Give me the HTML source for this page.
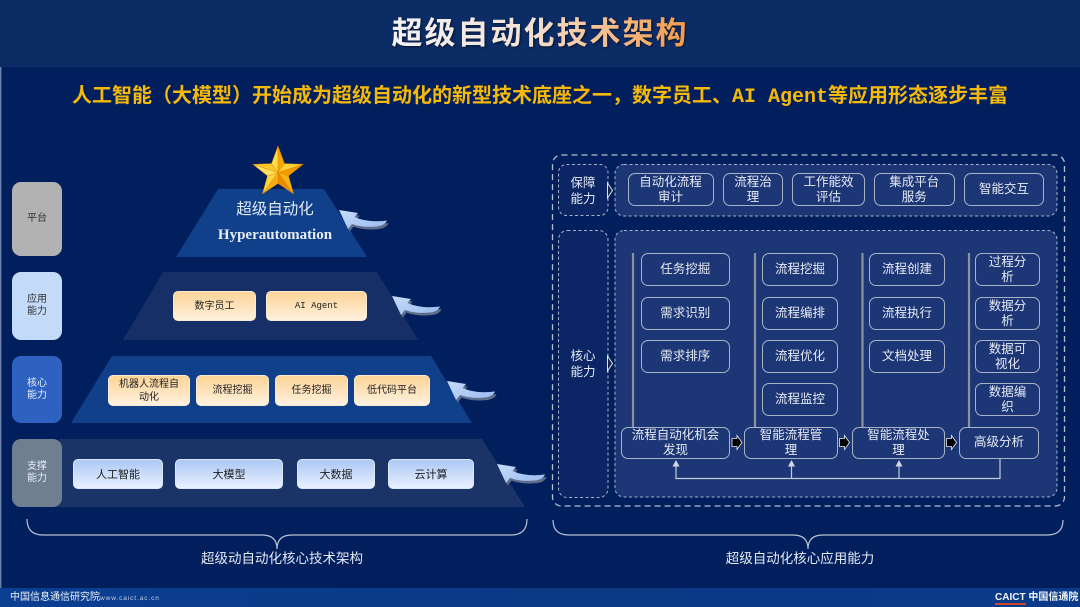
<!DOCTYPE html>
<html><head><meta charset="utf-8">
<style>
*{margin:0;padding:0;box-sizing:border-box}
body{width:1080px;height:607px;overflow:hidden;background:#011e5d;font-family:"Liberation Sans","Noto Sans CJK SC",sans-serif}
#w{position:relative;width:1080px;height:607px;background:#011e5d;overflow:hidden}
.abs{position:absolute}
.hdr{left:0;top:0;width:1080px;height:67px;background:#0c2c66}
.title{left:0;top:0;width:1080px;height:67px;line-height:67px;text-align:center;font-size:31px;font-weight:700;letter-spacing:2px;}
.title span{background:linear-gradient(90deg,#f2f2f6 0%,#f3e2d6 45%,#f59a45 100%);-webkit-background-clip:text;background-clip:text;color:transparent;filter:drop-shadow(1px 1px 1px rgba(0,0,0,.55))}
.sub{left:0;top:82px;width:1080px;height:28px;line-height:28px;text-align:center;font-size:20px;font-weight:700;color:#f6b90a;white-space:nowrap}
.sub .m{font-family:"Liberation Mono",monospace;font-weight:700}
.lb{position:absolute;left:12px;width:50px;border-radius:9px;display:flex;align-items:center;justify-content:center;text-align:center;font-size:10px;line-height:12px}
.ob{position:absolute;display:flex;align-items:center;justify-content:center;text-align:center;border-radius:5px;background:linear-gradient(180deg,#fcd396 0%,#fff1de 100%);border:1px solid #f8ead4;color:#222;font-size:10px;line-height:13px}
.bb{position:absolute;display:flex;align-items:center;justify-content:center;text-align:center;border-radius:5px;background:linear-gradient(180deg,#adc8f5 0%,#e8f0ff 100%);border:1px solid #dde8fb;color:#222;font-size:11px}
.rb{position:absolute;display:flex;align-items:center;justify-content:center;text-align:center;border:1.2px solid #a9b3c6;border-radius:7px;color:#e6eaf3;font-size:12.5px;line-height:15px}
.rl{position:absolute;display:flex;align-items:center;justify-content:center;text-align:center;color:#e2e7f1;font-size:12.5px;line-height:16px}
.bt{position:absolute;top:550px;height:18px;line-height:18px;text-align:center;color:#e4e9f2;font-size:13.5px;white-space:nowrap}
.ft{left:0;top:588px;width:1080px;height:19px;background:linear-gradient(90deg,#0b3f92 0%,#0a3986 50%,#0b3b88 100%)}
</style></head>
<body><div id="w">
<div class="abs hdr"></div>
<div class="abs title"><span>超级自动化技术架构</span></div>
<div class="abs sub">人工智能（大模型）开始成为超级自动化的新型技术底座之一，数字员工、<span class="m">AI Agent</span>等应用形态逐步丰富</div>

<svg class="abs" style="left:0;top:0" width="1080" height="607" viewBox="0 0 1080 607">
<defs>
<linearGradient id="ag" x1="0" y1="0" x2="1" y2="1"><stop offset="0" stop-color="#c9dcfa"/><stop offset="1" stop-color="#98b9ee"/></linearGradient>
</defs>
<line x1="0.7" y1="67" x2="0.7" y2="588" stroke="#6d80aa" stroke-width="1.4"/>
<!-- pyramid tiers -->
<polygon points="218,189 324,189 367,257 176,257" fill="#10408a"/>
<polygon points="163,272 377,272 418,340 123,340" fill="#162f67"/>
<polygon points="112,356 431,356 472,423 71,423" fill="#10408a"/>
<polygon points="60,439 482,439 525,507 17,507" fill="#1b3468"/>
<!-- star -->
<g stroke="#e08a00" stroke-width="0.4">
<polygon points="278,172.5 271.5,163.6 278,146" fill="#ffdc4a"/>
<polygon points="278,172.5 278,146 284.5,163.6" fill="#f7a300"/>
<polygon points="278,172.5 284.5,163.6 303.2,164.3" fill="#ffd23a"/>
<polygon points="278,172.5 303.2,164.3 288.5,175.9" fill="#f39a00"/>
<polygon points="278,172.5 288.5,175.9 293.6,193.9" fill="#f8b21a"/>
<polygon points="278,172.5 293.6,193.9 278,183.5" fill="#e88e00"/>
<polygon points="278,172.5 278,183.5 262.4,193.9" fill="#f7ae10"/>
<polygon points="278,172.5 262.4,193.9 267.5,175.9" fill="#ffd440"/>
<polygon points="278,172.5 267.5,175.9 252.8,164.3" fill="#ffe060"/>
<polygon points="278,172.5 252.8,164.3 271.5,163.6" fill="#ffc82a"/>
</g>
<!-- curved arrows -->
<g transform="translate(339,210)"><path d="M0,0 L19,3 L15.5,7 Q29,13 48,10.5 Q46,15.5 38,16.5 Q24,18 13,14 L9,19 Z" fill="#5f6d8a" transform="translate(1.6,2.6)"/><path d="M0,0 L19,3 L15.5,7 Q29,13 48,10.5 Q46,15.5 38,16.5 Q24,18 13,14 L9,19 Z" fill="url(#ag)"/></g>
<g transform="translate(392,296)"><path d="M0,0 L19,3 L15.5,7 Q29,13 48,10.5 Q46,15.5 38,16.5 Q24,18 13,14 L9,19 Z" fill="#5f6d8a" transform="translate(1.6,2.6)"/><path d="M0,0 L19,3 L15.5,7 Q29,13 48,10.5 Q46,15.5 38,16.5 Q24,18 13,14 L9,19 Z" fill="url(#ag)"/></g>
<g transform="translate(447,381)"><path d="M0,0 L19,3 L15.5,7 Q29,13 48,10.5 Q46,15.5 38,16.5 Q24,18 13,14 L9,19 Z" fill="#5f6d8a" transform="translate(1.6,2.6)"/><path d="M0,0 L19,3 L15.5,7 Q29,13 48,10.5 Q46,15.5 38,16.5 Q24,18 13,14 L9,19 Z" fill="url(#ag)"/></g>
<g transform="translate(497,464)"><path d="M0,0 L19,3 L15.5,7 Q29,13 48,10.5 Q46,15.5 38,16.5 Q24,18 13,14 L9,19 Z" fill="#5f6d8a" transform="translate(1.6,2.6)"/><path d="M0,0 L19,3 L15.5,7 Q29,13 48,10.5 Q46,15.5 38,16.5 Q24,18 13,14 L9,19 Z" fill="url(#ag)"/></g>

<!-- right panel -->
<rect x="552.5" y="155" width="512" height="351" rx="9" fill="none" stroke="#b5bdcc" stroke-width="1.3" stroke-dasharray="6 4"/>
<rect x="558.5" y="164.5" width="49.5" height="51" rx="8" fill="#0c2565" stroke="#a8b2c4" stroke-width="1" stroke-dasharray="3 2.5"/>
<rect x="615" y="164.5" width="442" height="51.5" rx="9" fill="#1d3776" stroke="#a8b2c4" stroke-width="1" stroke-dasharray="3 2.5"/>
<rect x="558.5" y="230.5" width="49.5" height="267" rx="9" fill="#0c2565" stroke="#a8b2c4" stroke-width="1" stroke-dasharray="3 2.5"/>
<rect x="615" y="230.5" width="442" height="266.5" rx="9" fill="#1d3776" stroke="#a8b2c4" stroke-width="1" stroke-dasharray="3 2.5"/>
<polygon points="607.5,183 612.5,190.5 607.5,198" fill="#18264a" stroke="#e0e6f0" stroke-width="1"/>
<polygon points="607.5,356 612.5,363.5 607.5,371" fill="#18264a" stroke="#e0e6f0" stroke-width="1"/>
<!-- column lines -->
<g stroke="#8c929c" stroke-width="2.2">
<line x1="633" y1="253" x2="633" y2="427"/>
<line x1="755" y1="253" x2="755" y2="427"/>
<line x1="862.5" y1="253" x2="862.5" y2="427"/>
<line x1="969" y1="253" x2="969" y2="427"/>
</g>
<!-- black arrows -->
<g fill="#000" stroke="#e8ecf4" stroke-width="0.8">
<polygon points="732,438.5 737,438.5 737,435.5 742,442.5 737,449.5 737,446.5 732,446.5"/>
<polygon points="839.5,438.5 844.5,438.5 844.5,435.5 849.5,442.5 844.5,449.5 844.5,446.5 839.5,446.5"/>
<polygon points="946.5,438.5 951.5,438.5 951.5,435.5 956.5,442.5 951.5,449.5 951.5,446.5 946.5,446.5"/>
</g>
<!-- feedback loop -->
<g stroke="#c5cddb" stroke-width="1.2" fill="none">
<polyline points="1000,459 1000,478.5 676,478.5 676,465"/>
<line x1="791.5" y1="478.5" x2="791.5" y2="465"/>
<line x1="899" y1="478.5" x2="899" y2="465"/>
</g>
<g fill="#d0d7e3">
<polygon points="676,460 672.5,466.5 679.5,466.5"/>
<polygon points="791.5,460 788,466.5 795,466.5"/>
<polygon points="899,460 895.5,466.5 902.5,466.5"/>
</g>
<!-- braces -->
<g stroke="#b8c2d4" stroke-width="1.2" fill="none">
<path d="M27,519 Q27,535 43,535 L262,535 Q277,535 277,549 Q277,535 292,535 L511,535 Q527,535 527,519"/>
<path d="M553,520 Q553,535 569,535 L793,535 Q808,535 808,549 Q808,535 823,535 L1047,535 Q1063,535 1063,520"/>
</g>
</svg>

<!-- left labels -->
<div class="lb" style="top:182px;height:74px;background:#b2b2b2;color:#333">平台</div>
<div class="lb" style="top:272px;height:68px;background:#c3daf8;color:#333">应用<br>能力</div>
<div class="lb" style="top:356px;height:67px;background:#2d62c0;color:#e8eef8">核心<br>能力</div>
<div class="lb" style="top:439px;height:68px;background:#6f7f8f;color:#e8eef8">支撑<br>能力</div>

<!-- tier 1 text -->
<div class="abs" style="left:175px;top:199px;width:200px;height:22px;line-height:22px;text-align:center;color:#e4eaf4;font-size:15.5px">超级自动化</div>
<div class="abs" style="left:175px;top:225px;width:200px;height:20px;line-height:20px;text-align:center;color:#e8edf6;font-size:15px;font-weight:700;font-family:'Liberation Serif',serif">Hyperautomation</div>

<!-- tier 2 -->
<div class="ob" style="left:173px;top:291px;width:83px;height:30px">数字员工</div>
<div class="ob" style="left:266px;top:291px;width:101px;height:30px;font-family:'Liberation Mono',monospace;font-size:9px">AI Agent</div>
<!-- tier 3 -->
<div class="ob" style="left:108px;top:375px;width:82px;height:31px">机器人流程自<br>动化</div>
<div class="ob" style="left:196px;top:375px;width:73px;height:31px">流程挖掘</div>
<div class="ob" style="left:275px;top:375px;width:73px;height:31px">任务挖掘</div>
<div class="ob" style="left:354px;top:375px;width:76px;height:31px">低代码平台</div>
<!-- tier 4 -->
<div class="bb" style="left:73px;top:459px;width:90px;height:30px">人工智能</div>
<div class="bb" style="left:175px;top:459px;width:108px;height:30px">大模型</div>
<div class="bb" style="left:297px;top:459px;width:78px;height:30px">大数据</div>
<div class="bb" style="left:388px;top:459px;width:86px;height:30px">云计算</div>

<!-- right labels -->
<div class="rl" style="left:558px;top:165px;width:50px;height:51px">保障<br>能力</div>
<div class="rl" style="left:558px;top:231px;width:50px;height:266px">核心<br>能力</div>

<!-- row 1 -->
<div class="rb" style="left:627.5px;top:173px;width:86px;height:33px">自动化流程<br>审计</div>
<div class="rb" style="left:723px;top:173px;width:60px;height:33px">流程治<br>理</div>
<div class="rb" style="left:792px;top:173px;width:73px;height:33px">工作能效<br>评估</div>
<div class="rb" style="left:874px;top:173px;width:80.5px;height:33px">集成平台<br>服务</div>
<div class="rb" style="left:964px;top:173px;width:80px;height:33px">智能交互</div>

<!-- col1 -->
<div class="rb" style="left:640.5px;top:253px;width:89.5px;height:33px">任务挖掘</div>
<div class="rb" style="left:640.5px;top:297px;width:89.5px;height:33px">需求识别</div>
<div class="rb" style="left:640.5px;top:340px;width:89.5px;height:33px">需求排序</div>
<!-- col2 -->
<div class="rb" style="left:762px;top:253px;width:76px;height:33px">流程挖掘</div>
<div class="rb" style="left:762px;top:297px;width:76px;height:33px">流程编排</div>
<div class="rb" style="left:762px;top:340px;width:76px;height:33px">流程优化</div>
<div class="rb" style="left:762px;top:383px;width:76px;height:33px">流程监控</div>
<!-- col3 -->
<div class="rb" style="left:869px;top:253px;width:76px;height:33px">流程创建</div>
<div class="rb" style="left:869px;top:297px;width:76px;height:33px">流程执行</div>
<div class="rb" style="left:869px;top:340px;width:76px;height:33px">文档处理</div>
<!-- col4 -->
<div class="rb" style="left:975px;top:253px;width:65px;height:33px">过程分<br>析</div>
<div class="rb" style="left:975px;top:297px;width:65px;height:33px">数据分<br>析</div>
<div class="rb" style="left:975px;top:340px;width:65px;height:33px">数据可<br>视化</div>
<div class="rb" style="left:975px;top:383px;width:65px;height:33px">数据编<br>织</div>
<!-- bottom row -->
<div class="rb" style="left:621px;top:426.5px;width:109px;height:32.5px;background:#1d3776">流程自动化机会<br>发现</div>
<div class="rb" style="left:744px;top:426.5px;width:94px;height:32.5px;background:#1d3776">智能流程管<br>理</div>
<div class="rb" style="left:852px;top:426.5px;width:93px;height:32.5px;background:#1d3776">智能流程处<br>理</div>
<div class="rb" style="left:959px;top:426.5px;width:80px;height:32.5px;background:#1d3776">高级分析</div>

<!-- brace labels -->
<div class="bt" style="left:182px;width:200px">超级动自动化核心技术架构</div>
<div class="bt" style="left:700px;width:200px">超级自动化核心应用能力</div>

<!-- footer -->
<div class="abs ft"></div>
<div class="abs" style="left:10px;top:589px;height:17px;line-height:17px;color:#eef2f8;font-size:10px;white-space:nowrap">中国信息通信研究院<span style="font-size:6.5px;letter-spacing:0.9px;color:#c8d2e6">www.caict.ac.cn</span></div>
<div class="abs" style="left:995px;top:589px;height:17px;line-height:17px;color:#f2f5fa;font-size:10px;font-weight:700;white-space:nowrap"><span style="border-bottom:2px solid #d0462e;line-height:11px;display:inline-block">CAICT</span> 中国信通院</div>
</div></body></html>
